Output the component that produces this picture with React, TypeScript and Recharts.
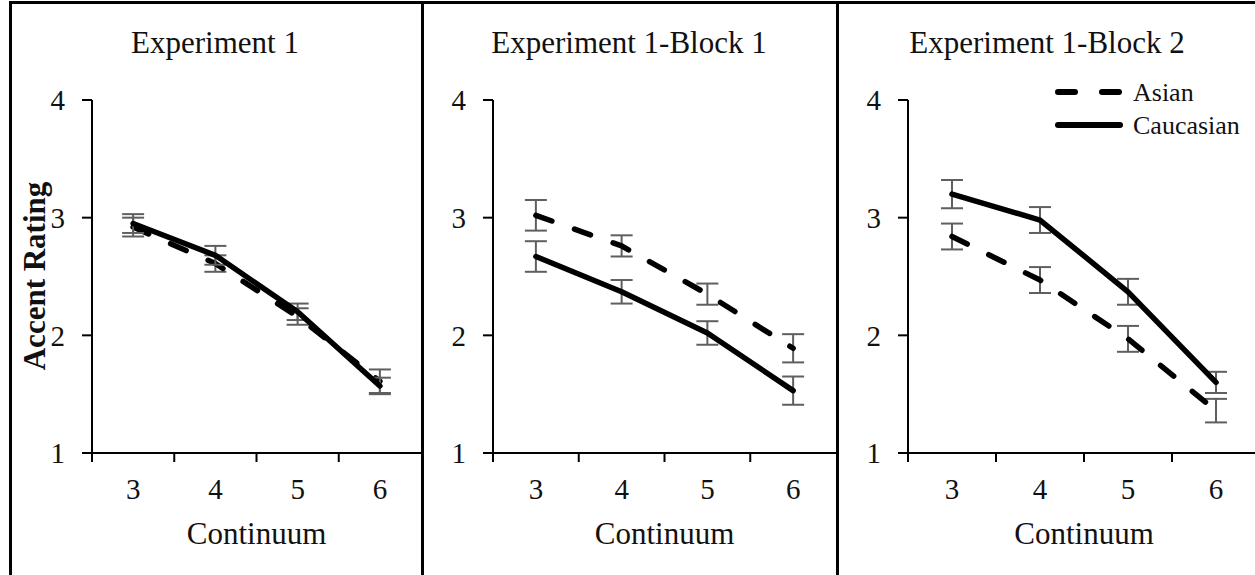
import React from "react";
import { LineChart, Line, XAxis, YAxis, ErrorBar, Legend } from "recharts";

// continuum steps shown on every panel
const CONTINUUM = [3, 4, 5, 6];
// half steps carry the tick marks, whole steps carry the labels
const X_TICKS = [2.5, 3, 3.5, 4, 4.5, 5, 5.5, 6];
const Y_TICKS = [1, 2, 3, 4];

// Experiment 1
const EXP1_ASIAN = [2.92, 2.61, 2.16, 1.61];
const EXP1_ASIAN_ERR = [0.08, 0.07, 0.07, 0.1];
const EXP1_CAUC = [2.95, 2.68, 2.2, 1.57];
const EXP1_CAUC_ERR = [0.08, 0.08, 0.07, 0.07];

// Experiment 1 - Block 1
const B1_ASIAN = [3.02, 2.76, 2.35, 1.89];
const B1_ASIAN_ERR = [0.13, 0.09, 0.09, 0.12];
const B1_CAUC = [2.67, 2.37, 2.02, 1.53];
const B1_CAUC_ERR = [0.13, 0.1, 0.1, 0.12];

// Experiment 1 - Block 2
const B2_ASIAN = [2.84, 2.47, 1.97, 1.36];
const B2_ASIAN_ERR = [0.11, 0.11, 0.11, 0.1];
const B2_CAUC = [3.2, 2.98, 2.37, 1.6];
const B2_CAUC_ERR = [0.12, 0.11, 0.11, 0.09];

const SERIES = [
  { key: "asian", name: "Asian", dash: "17 24", legendDash: "17 27" },
  { key: "cauc", name: "Caucasian", dash: undefined, legendDash: undefined },
];

const FONT = '"Liberation Serif", "Times New Roman", serif';
const ERR_COLOR = "#5f5f5f";

const rows = (a: number[], ae: number[], c: number[], ce: number[]) =>
  CONTINUUM.map((x, i) => ({ x, asian: a[i], asianErr: ae[i], cauc: c[i], caucErr: ce[i] }));

// layout of the three panels (page coordinates)
const PANELS = [
  { title: "Experiment 1", titleX: 215, chartLeft: 12, width: 409, marginLeft: 20, plotL: 92, plotR: 421,
    data: rows(EXP1_ASIAN, EXP1_ASIAN_ERR, EXP1_CAUC, EXP1_CAUC_ERR) },
  { title: "Experiment 1-Block 1", titleX: 629, chartLeft: 424, width: 412, marginLeft: 9, plotL: 493, plotR: 836,
    data: rows(B1_ASIAN, B1_ASIAN_ERR, B1_CAUC, B1_CAUC_ERR) },
  { title: "Experiment 1-Block 2", titleX: 1047, chartLeft: 839, width: 421, marginLeft: 9, plotL: 908, plotR: 1260,
    data: rows(B2_ASIAN, B2_ASIAN_ERR, B2_CAUC, B2_CAUC_ERR), legend: true },
];

function XTick({ x, y, payload }: any) {
  const v = payload.value;
  if (Number.isInteger(v)) {
    return (
      <text x={x} y={y + 46} textAnchor="middle" fontSize={29} fontFamily={FONT} fill="#111">
        {v}
      </text>
    );
  }
  return <line x1={x} y1={y} x2={x} y2={y + 9} stroke="#000" strokeWidth={2} />;
}

function LegendBox() {
  return (
    <svg width={210} height={66} style={{ display: "block" }}>
      {SERIES.map((s, i) => {
        const y = 14 + i * 33;
        return (
          <g key={s.key}>
            <line x1={3} x2={65} y1={y} y2={y} stroke="#000" strokeWidth={6}
              strokeLinecap="round" strokeDasharray={s.legendDash} />
            <text x={78} y={y + 8.5} fontSize={26} fontFamily={FONT} fill="#111">{s.name}</text>
          </g>
        );
      })}
    </svg>
  );
}

export default function App() {
  return (
    <div style={{ position: "absolute", left: 0, top: 0, width: 1255, height: 575, overflow: "hidden", background: "#fff" }}>
      {/* panel frames */}
      {[9, 421, 836].map((l, i) => (
        <div key={i} style={{ position: "absolute", left: l, top: 1, width: 1300, height: 600,
          borderLeft: "3px solid #000", borderTop: "3px solid #000", boxSizing: "border-box" }} />
      ))}

      {PANELS.map((p) => (
        <div key={p.title} style={{ position: "absolute", left: p.chartLeft, top: 0 }}>
          <LineChart width={p.width} height={575} data={p.data}
            margin={{ top: 100, right: 0, bottom: 62, left: p.marginLeft }}>
            <XAxis dataKey="x" type="number" domain={[2.5, 6.5]} ticks={X_TICKS} interval={0}
              height={60} tickSize={0} tickMargin={0} tickLine={false} tick={<XTick />}
              axisLine={{ stroke: "#000", strokeWidth: 2 }} allowDataOverflow />
            <YAxis type="number" domain={[1, 4]} ticks={Y_TICKS} interval={0} width={60}
              tickSize={10} tickMargin={17}
              tick={{ fontSize: 29, fill: "#111", fontFamily: FONT }}
              tickLine={{ stroke: "#000", strokeWidth: 2 }}
              axisLine={{ stroke: "#000", strokeWidth: 2 }} />
            {SERIES.map((s) => (
              <Line key={s.key} dataKey={s.key} name={s.name} type="linear" stroke="#000"
                strokeWidth={5.5} strokeDasharray={s.dash} strokeLinecap="round" strokeLinejoin="round"
                dot={false} activeDot={false} isAnimationActive={false}>
                <ErrorBar dataKey={`${s.key}Err`} direction="y" width={11} stroke={ERR_COLOR}
                  strokeWidth={2} isAnimationActive={false} />
              </Line>
            ))}
            {p.legend && (
              <Legend layout="horizontal" verticalAlign="middle" align="center"
                wrapperStyle={{ position: "absolute", top: 78, left: 216, width: 210, height: 66 }}
                content={() => <LegendBox />} />
            )}
          </LineChart>
        </div>
      ))}

      {/* titles and axis titles */}
      <svg width={1255} height={575} style={{ position: "absolute", left: 0, top: 0, pointerEvents: "none" }}>
        {PANELS.map((p) => (
          <g key={p.title}>
            <text x={p.titleX} y={53} textAnchor="middle" fontSize={31} fontFamily={FONT} fill="#111">
              {p.title}
            </text>
            <text x={(p.plotL + p.plotR) / 2} y={544} textAnchor="middle" fontSize={31} fontFamily={FONT} fill="#111">
              Continuum
            </text>
          </g>
        ))}
        <text transform="translate(45,276) rotate(-90)" textAnchor="middle" fontSize={31}
          fontWeight="bold" fontFamily={FONT} fill="#111">
          Accent Rating
        </text>
      </svg>
    </div>
  );
}
